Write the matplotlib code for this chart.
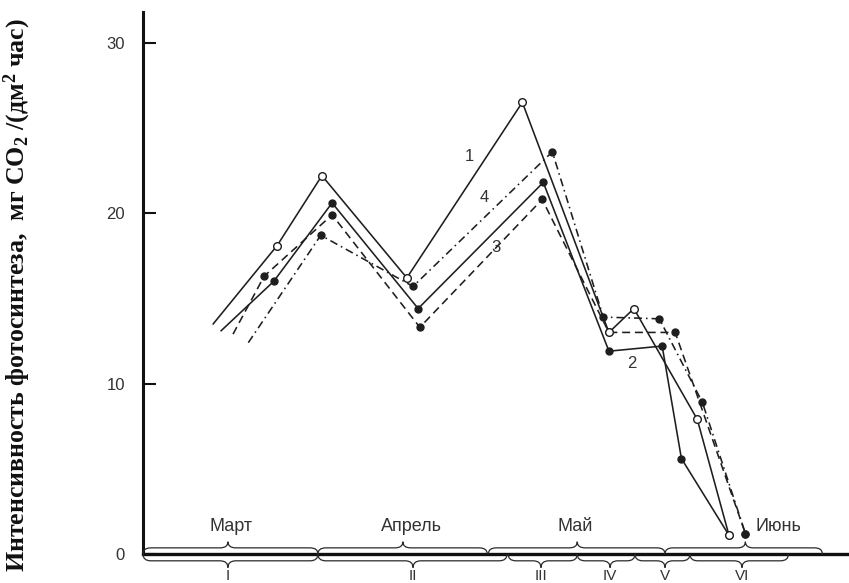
import matplotlib
matplotlib.use('Agg')
import matplotlib.pyplot as plt
from matplotlib.path import Path
from matplotlib.patches import PathPatch

plt.rcParams['mathtext.fontset'] = 'custom'
plt.rcParams['mathtext.rm'] = 'Liberation Serif:bold'
plt.rcParams['mathtext.it'] = 'Liberation Serif:bold'
plt.rcParams['mathtext.bf'] = 'Liberation Serif:bold'

# ---- data (x in days from 1 March, y in mg CO2 / (dm2 h)) ----
x1 = [12.4, 23.7, 31.6, 46.6, 67.0, 82.3, 86.7, 97.9, 103.5]
y1 = [13.5, 18.1, 22.2, 16.2, 26.5, 13.0, 14.4, 7.9, 1.1]
x2 = [13.8, 23.1, 33.4, 48.6, 70.7, 82.3, 91.7, 95.1, 103.5]
y2 = [13.1, 16.0, 20.6, 14.4, 21.8, 11.9, 12.2, 5.6, 1.1]
x3 = [15.9, 21.4, 33.4, 48.9, 70.5, 82.3, 94.0, 106.4]
y3 = [12.9, 16.3, 19.9, 13.3, 20.8, 13.0, 13.0, 1.2]
x4 = [18.6, 31.4, 47.7, 72.3, 81.3, 91.2, 98.8, 106.4]
y4 = [12.4, 18.7, 15.7, 23.6, 13.9, 13.8, 8.9, 1.2]

series_labels = ['1', '2', '3', '4']
months = ['Март', 'Апрель', 'Май', 'Июнь']
month_spans = [(0.0, 30.9, 15.0), (30.9, 60.8, 45.9), (61.0, 92.2, 76.7), (92.2, 120.0, 106.4)]
periods = ['I', 'II', 'III', 'IV', 'V', 'VI']
period_spans = [(0.0, 30.9, 15.0), (30.9, 64.3, 47.7), (64.5, 76.7, 70.3),
                (76.7, 86.9, 82.5), (86.9, 96.6, 92.2), (96.6, 114.0, 105.8)]
yticks = [0, 10, 20, 30]

fig = plt.figure(figsize=(8.49, 5.83), dpi=100)
ax = fig.add_axes([143/849, 1-554/583, 1-143/849, (554-12)/583])
ax.set_xlim(0, 124.7)
ax.set_ylim(0, 31.8)

lc = '#1e1e1e'
lw = 1.15
ax.plot(x2, y2, '-', color=lc, lw=lw, marker='o', ms=5, mfc=lc, mec=lc,
        markevery=slice(1, None), zorder=3)
ax.plot(x3, y3, color=lc, lw=lw, ls=(0, (5, 3)), marker='o', ms=5, mfc=lc, mec=lc,
        markevery=slice(1, None), zorder=3)
ax.plot(x4, y4, color=lc, lw=lw, ls=(0, (5, 2.5, 1, 2.5)), marker='o', ms=5, mfc=lc, mec=lc,
        markevery=slice(1, None), zorder=3)
ax.plot(x1, y1, '-', color=lc, lw=lw, marker='o', ms=5.5, mfc='white', mec=lc, mew=1.0,
        markevery=slice(1, None), zorder=4)

tc = '#333333'
sans = 'Liberation Sans'
for lab, (lx, ly) in zip(series_labels, [(57.6, 23.3), (86.4, 11.2), (62.4, 18.0), (60.2, 20.9)]):
    ax.text(lx, ly, lab, fontsize=12, family=sans, color=tc, ha='center', va='center')

# spines / ticks
for s in ['top', 'right']:
    ax.spines[s].set_visible(False)
ax.spines['left'].set_linewidth(2.2)
ax.spines['bottom'].set_linewidth(2.4)
ax.spines['left'].set_color('#111111')
ax.spines['bottom'].set_color('#111111')
ax.set_xticks([])
ax.set_yticks(yticks)
ax.set_yticklabels([str(v) for v in yticks], family=sans, fontsize=12, color=tc)
ax.tick_params(axis='y', direction='in', length=9, width=1.5, pad=13, colors='#111111',
               labelcolor=tc)


def brace(x0, x1, xt, yb, h, r):
    ym = yb + h / 2.0
    verts = [(x0, yb), (x0, ym), (x0 + r, ym), (xt - r, ym), (xt, ym), (xt, yb + h),
             (xt, ym), (xt + r, ym), (x1 - r, ym), (x1, ym), (x1, yb)]
    codes = [Path.MOVETO, Path.CURVE3, Path.CURVE3, Path.LINETO, Path.CURVE3, Path.CURVE3,
             Path.CURVE3, Path.CURVE3, Path.LINETO, Path.CURVE3, Path.CURVE3]
    p = PathPatch(Path(verts, codes), fill=False, lw=0.9, ec='#2a2a2a',
                  transform=ax.transData, clip_on=False, zorder=5)
    ax.add_patch(p)


for (a, b, t) in month_spans:
    brace(a, b, t, 0.0, 0.72, 1.4)
for (a, b, t) in period_spans:
    brace(a, b, t, 0.0, -0.8, 1.4)

month_pos = [(15.5, 'center'), (47.5, 'center'), (76.3, 'center'), (108.1, 'left')]
for m, (mx, ha) in zip(months, month_pos):
    ax.text(mx, 1.6, m, fontsize=13, family=sans, color=tc, ha=ha, va='center')
for p, (a, b, t) in zip(periods, period_spans):
    ax.text(t, -1.55, p, fontsize=11, family=sans, color=tc, ha='center', va='baseline',
            clip_on=False)

fig.text(17/849, 1-295/583, 'Интенсивность фотосинтеза,  мг CO$_2$ /(дм$^2$ час)',
         rotation=90, ha='center', va='center', fontsize=18.6, fontweight='bold',
         family='Liberation Serif', color='#111111')

fig.savefig('out.png', dpi=100)
